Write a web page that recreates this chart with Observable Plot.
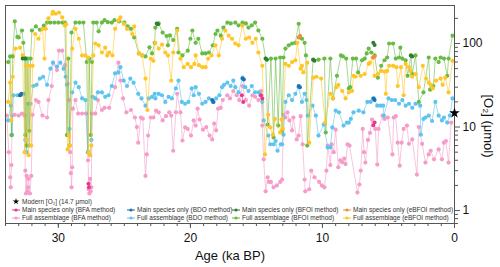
<!DOCTYPE html>
<html><head><meta charset="utf-8">
<script src="https://cdn.jsdelivr.net/npm/d3@7"></script>
<script src="https://cdn.jsdelivr.net/npm/@observablehq/plot@0.6"></script>
<style>
html,body{margin:0;padding:0;background:#fff;}
svg{display:block;}
</style>
</head><body>
<div id="chart"></div>
<script>
// [age (ka BP), O2 (µmol)]
const fullBFA = [[33.9,13.7],[33.75,5],[33.65,2.5],[33.6,1.9],[33.55,3.5],[33.5,13.7],[33.3,14],[33.0,13.7],[32.75,14.5],[32.55,13.7],[32.5,3],[32.45,1.6],[32.4,2.6],[32.35,1.7],[32.3,1.9],[32.25,2.4],[32.15,1.6],[32.05,2.6],[31.95,14],[31.7,21],[31.5,20],[31.2,13.7],[30.85,13],[30.75,21],[30.5,31],[30.4,59],[30.1,48],[29.95,82],[29.7,82],[29.5,55],[29.3,33],[29.2,21],[29.1,5],[29.05,2.8],[29.0,1.9],[28.95,3.3],[28.9,16.6],[28.7,21],[28.5,14.5],[28.2,14.5],[27.9,14.5],[27.75,4],[27.7,1.8],[27.65,1.6],[27.6,2.4],[27.55,1.7],[27.5,1.9],[27.45,14.5],[27.2,14.5],[27.0,21],[26.7,16],[26.5,17],[26.15,17],[25.7,30],[25.45,59],[25.3,36],[25.1,22],[24.85,15],[24.5,16],[24.2,13],[24.05,10],[23.95,6.5],[23.75,13],[23.6,12.6],[23.4,2.6],[23.3,4.7],[23.2,7.9],[23.0,13],[22.8,13],[22.6,15.7],[22.4,15],[22.1,12],[21.85,13.5],[21.6,15],[21.45,13.7],[21.3,5.2],[21.1,15],[21.0,25],[20.75,15],[20.6,6.9],[20.4,9.9],[20.2,9.5],[19.95,7.9],[19.75,12],[19.6,10.4],[19.45,16.6],[19.3,12.3],[19.05,9.3],[18.8,10],[18.55,7.9],[18.35,7.1],[18.2,11],[18.05,9.1],[17.9,16.6],[17.7,17],[17.55,21],[17.2,24],[17.0,22],[16.75,27],[16.5,24],[16.3,21],[16.05,31],[15.8,21],[15.55,18],[15.3,24],[15.1,23],[14.85,21],[14.65,27],[14.55,10.4],[14.45,4.1],[14.3,1.7],[14.15,2.5],[14.05,2.2],[13.9,2.2],[13.7,1.9],[13.45,2.0],[13.2,2.2],[13.05,2.35],[12.95,14],[12.8,13],[12.65,15],[12.5,12],[12.3,9.1],[12.2,13],[11.95,7.1],[11.8,7.9],[11.65,13.5],[11.5,6.2],[11.35,2.35],[11.3,1.7],[11.0,1.8],[10.85,3.0],[10.6,2.5],[10.25,2.2],[10.05,2.0],[9.85,1.9],[9.7,3.0],[9.6,6],[9.4,3.5],[9.3,6.2],[9.15,5.0],[9.0,9.3],[8.8,3.3],[8.65,4.0],[8.5,3.8],[8.35,4.2],[8.25,3.6],[8.1,6.2],[7.95,6.0],[7.35,1.64],[7.2,2.05],[7.1,3.0],[6.95,9.5],[6.85,5],[6.75,3.75],[6.55,7],[6.4,8.5],[6.25,12.3],[6.0,9.5],[5.85,3.55],[5.75,9.5],[5.45,13.7],[5.3,12.5],[5.05,13],[4.7,4.7],[4.6,13],[4.45,13.5],[4.3,6.5],[4.15,3.45],[4.0,6.5],[3.85,9.5],[3.6,10.4],[3.45,6.3],[3.2,7.1],[2.85,2.7],[2.7,10],[2.45,6.3],[2.2,3.75],[1.95,4.7],[1.8,5.2],[1.55,4.1],[1.2,5.4],[0.95,4.1],[0.8,6.5],[0.65,6.8],[0.45,3.75],[0.25,11.3]];

const fullBDO = [[33.8,12],[33.6,18],[33.5,8],[33.4,24],[33.1,24],[32.85,24],[32.6,25],[32.5,7],[32.4,5],[32.3,19],[32.2,6],[32.1,19],[31.9,31],[31.65,32],[31.4,38],[31.15,40],[30.85,32],[30.6,50],[30.4,59],[30.1,53],[29.85,59],[29.6,50],[29.45,40],[29.35,32],[29.25,8],[29.15,9.5],[28.95,26],[28.7,34],[28.45,30],[28.2,22],[27.95,21],[27.75,5],[27.6,4.6],[27.5,7],[27.4,23],[27.2,22],[27.0,26],[26.7,26],[26.45,23],[26.2,24],[25.95,31],[25.7,44],[25.45,45],[25.3,52],[25.05,36],[24.8,31],[24.55,38],[24.3,34],[23.95,25],[23.7,22],[23.4,18],[23.15,22],[22.9,23],[22.7,25],[22.65,22],[22.4,25],[22.15,24],[21.9,20],[21.65,23],[21.4,22],[21.1,29],[20.9,36],[20.65,20],[20.4,19],[20.15,20],[19.9,29],[19.75,24],[19.6,30],[19.35,25],[19.1,19],[18.85,20],[18.6,22],[18.3,20],[18.05,22],[17.8,24],[17.6,30],[17.45,32],[17.2,34],[16.95,31],[16.75,36],[16.6,30],[16.35,26],[16.05,39],[15.85,30],[15.6,27],[15.35,31],[15.1,26],[14.85,26],[14.7,24],[14.55,20],[14.45,12],[14.1,7.9],[13.95,6.2],[13.7,6.2],[13.55,6.8],[13.4,5.2],[13.15,6.2],[13.05,6.2],[12.95,8.1],[12.8,20],[12.55,24],[12.3,21],[12.05,25],[11.8,30],[11.55,20],[11.35,25],[11.2,21],[11.1,13.7],[10.75,18],[10.5,13.7],[10.3,7.9],[9.9,10.7],[9.6,5.7],[9.4,5.7],[9.25,9.9],[9.0,15.7],[8.75,15],[8.4,10.4],[8.15,11.3],[8.0,11.3],[7.85,12.5],[7.65,15],[7.25,15.7],[6.9,15],[6.6,20],[6.35,20],[6.1,22],[5.85,18],[5.6,18],[5.4,18],[5.35,13.7],[5.0,22],[4.75,21],[4.5,21],[4.2,19],[3.95,21],[3.7,18],[3.45,19],[3.2,17],[2.95,19],[2.6,18],[2.55,8.1],[2.35,12.5],[2.2,13],[1.95,13.7],[1.7,11.8],[1.45,20],[1.2,13.7],[0.95,12],[0.8,13],[0.55,11.3],[0.35,13.7],[0.15,22]];

const fullBFOI = [[33.8,60],[33.65,70],[33.55,8],[33.45,70],[33.3,184],[33.1,120],[33.0,118],[32.75,143],[32.65,102],[32.55,66],[32.5,8],[32.45,66],[32.4,6],[32.3,66],[32.2,9],[32.1,66],[32.0,143],[31.7,160],[31.4,146],[31.1,164],[30.85,178],[30.6,178],[30.3,178],[30.0,178],[29.7,178],[29.5,178],[29.35,8],[29.25,66],[29.15,6],[29.0,135],[28.7,178],[28.4,178],[28.1,178],[27.85,60],[27.75,5],[27.65,66],[27.55,8],[27.45,60],[27.35,178],[27.1,178],[26.95,140],[26.7,178],[26.5,190],[26.25,180],[25.95,178],[25.75,190],[25.4,184],[25.0,178],[24.75,160],[24.5,150],[24.25,118],[23.9,76],[23.65,72],[23.4,70],[23.1,90],[22.9,76],[22.7,102],[22.65,155],[22.4,174],[22.1,135],[21.8,123],[21.7,95],[21.55,125],[21.3,110],[21.0,150],[20.9,78],[20.6,72],[20.2,82],[20.0,114],[19.85,143],[19.6,102],[19.4,114],[19.1,76],[18.85,76],[18.6,78],[18.3,95],[18.1,130],[17.95,143],[17.7,124],[17.5,155],[17.2,178],[16.95,174],[16.6,178],[16.35,165],[16.05,178],[15.8,174],[15.6,155],[15.35,165],[15.1,178],[14.85,143],[14.55,114],[14.3,66],[14.15,10.7],[13.9,66],[13.7,7.5],[13.55,66],[13.35,10.4],[13.2,68],[13.05,9],[12.95,68],[12.8,87],[12.55,95],[12.3,100],[12.05,102],[11.8,172],[11.7,118],[11.55,114],[11.35,102],[11.25,72],[11.15,6],[10.7,64],[10.3,64],[9.85,66],[9.75,8.6],[9.4,66],[9.2,22],[8.9,41],[8.6,72],[8.45,70],[8.2,66],[8.0,29],[7.9,30],[7.7,66],[7.45,66],[7.3,45],[7.0,63],[6.8,66],[6.65,76],[6.5,87],[6.3,78],[6.05,72],[5.8,39],[5.55,54],[5.3,63],[5.1,68],[4.95,100],[4.65,100],[4.45,66],[4.2,68],[4.1,89],[3.95,66],[3.7,63],[3.55,41],[3.3,72],[3.2,43],[2.95,72],[2.7,20],[2.35,26],[1.95,68],[1.85,28],[1.6,31],[1.45,66],[1.2,60],[1.05,68],[0.8,66],[0.55,41],[0.45,66],[0.15,124]];

const fullEBFOI = [[33.8,20],[33.65,34],[33.55,12],[33.45,40],[33.25,87],[32.9,89],[32.7,72],[32.55,5],[32.45,54],[32.35,7],[32.25,4.6],[32.15,54],[32.05,6],[31.95,54],[31.75,130],[31.5,114],[31.2,150],[31.05,66],[30.95,150],[30.75,200],[30.45,227],[30.4,240],[30.2,227],[29.95,235],[29.7,205],[29.5,164],[29.4,170],[29.3,5.4],[29.2,8],[29.1,6],[28.95,87],[28.7,150],[28.45,114],[28.2,72],[27.95,72],[27.75,68],[27.7,5],[27.6,4.6],[27.5,6],[27.35,72],[27.2,100],[26.95,95],[26.7,78],[26.45,89],[26.3,72],[26.15,78],[25.9,72],[25.7,150],[25.45,189],[25.3,205],[25.05,172],[24.8,150],[24.4,130],[24.25,160],[23.9,76],[23.65,72],[23.4,38],[23.25,16],[23.0,66],[22.8,62],[22.65,102],[22.4,87],[22.15,97],[21.9,78],[21.7,72],[21.45,36],[21.3,78],[21.0,143],[20.75,66],[20.5,52],[20.2,57],[19.95,52],[19.7,57],[19.6,72],[19.35,55],[19.1,52],[18.85,52],[18.65,66],[18.4,72],[18.1,95],[17.85,72],[17.6,114],[17.35,143],[17.1,124],[16.85,114],[16.6,100],[16.35,95],[16.05,164],[15.8,114],[15.55,118],[15.3,102],[15.05,114],[14.85,78],[14.55,54],[14.35,4.7],[14.1,14],[13.95,9.9],[13.75,8.1],[13.6,12.5],[13.2,8.6],[13.1,12.3],[13.0,9.5],[12.8,57],[12.55,54],[12.3,60],[12.05,63],[11.9,102],[11.65,50],[11.55,54],[11.45,45],[11.15,59],[11.0,6.5],[10.7,39],[10.45,40],[10.1,38],[9.8,11.3],[9.4,25],[9.2,22],[8.95,30],[8.8,32],[8.5,27],[8.25,22],[8.0,26],[7.75,27],[7.65,41],[7.5,40],[7.1,41],[6.8,43],[6.5,57],[6.4,59],[6.2,68],[6.05,41],[5.8,43],[5.55,47],[5.3,46],[5.2,25],[5.1,47],[4.95,54],[4.65,54],[4.4,52],[4.3,31],[4.05,52],[3.85,24],[3.7,57],[3.45,52],[3.35,47],[3.2,40],[2.95,43],[2.7,30],[2.4,54],[2.15,38],[1.95,34],[1.8,32],[1.65,29],[1.4,36],[1.05,38],[0.9,32],[0.7,39],[0.45,26],[0.15,62]];

const mainBFA = [[27.72,2.1],[27.68,1.9],[16.1,24],[16.0,20],[14.65,24],[14.55,22],[6.15,10.5],[6.05,11.3]];
const mainBDO = [[32.9,24],[32.8,25],[18.35,21],[18.25,20],[16.05,38],[15.95,37],[11.8,31],[11.7,30],[6.15,22],[6.05,21]];
const mainBFOI = [[32.7,66],[32.5,66],[22.55,174],[22.45,170],[14.3,66],[14.2,64],[10.7,64],[10.6,62],[6.15,102],[6.05,96],[3.3,72],[3.2,70]];
const mainEBFOI = [[11.8,118],[11.7,124],[6.15,68],[6.05,70]];

const modernO2 = [[0, 14.7]];

const xMajorTicks = [0, 10, 20, 30];
const xMinorTicks = [0,1,2,3,4,5,6,7,8,9,10,11,12,13,14,15,16,17,18,19,20,21,22,23,24,25,26,27,28,29,30,31,32,33,34];
const yMajorTicks = [1, 10, 100];
const yMinorTicks = [0.7,0.8,0.9,2,3,4,5,6,7,8,9,20,30,40,50,60,70,80,90,200];

const seriesNames = [
  "Main species only (BFA method)", "Full assemblage (BFA method)",
  "Main species only (BDO method)", "Full assemblage (BDO method)",
  "Main species only (BFOI method)", "Full assemblage (BFOI method)",
  "Main species only (eBFOI method)", "Full assemblage (eBFOI method)"
];
const seriesColors = ["#e8388c", "#f59cc8", "#1f6fb2", "#5ec4ee", "#2f7d32", "#68bb45", "#f38b3e", "#ffc629"];

function toRows(arr) {
  let seg = 0;
  return arr.map((d, i) => {
    if (i > 0 && Math.abs(arr[i-1][0] - d[0]) > 0.6) seg++;
    return {age: d[0], o2: d[1], seg};
  });
}

const fullSets = [
  [toRows(fullBFA), seriesColors[1]],
  [toRows(fullBDO), seriesColors[3]],
  [toRows(fullBFOI), seriesColors[5]],
  [toRows(fullEBFOI), seriesColors[7]]
];
const mainSets = [
  [toRows(mainBFA), seriesColors[0]],
  [toRows(mainBDO), seriesColors[2]],
  [toRows(mainBFOI), seriesColors[4]],
  [toRows(mainEBFOI), seriesColors[6]]
];

const marks = [];
for (const [rows, c] of fullSets) {
  marks.push(Plot.line(rows, {x: "age", y: "o2", stroke: c, strokeWidth: 0.9, strokeOpacity: 0.65}));
  marks.push(Plot.dot(rows, {x: "age", y: "o2", r: 2.1, fill: c, stroke: "none"}));
}
for (const [rows, c] of mainSets) {
  marks.push(Plot.line(rows, {x: "age", y: "o2", z: "seg", stroke: c, strokeWidth: 0.9, strokeOpacity: 0.7}));
  marks.push(Plot.dot(rows, {x: "age", y: "o2", r: 2.0, fill: c, stroke: "none"}));
}
marks.push(Plot.frame({stroke: "#555", strokeWidth: 1}));
marks.push(Plot.axisX({ticks: xMajorTicks, tickSize: 5, tickPadding: 5, label: null, tickFormat: d => String(d), stroke: "#555", fill: "#111"}));
marks.push(Plot.axisX({ticks: xMinorTicks, tickSize: 3, label: null, tickFormat: () => "", stroke: "#555"}));
marks.push(Plot.axisY({anchor: "right", ticks: yMajorTicks, tickSize: 5, tickPadding: 3, label: null, tickFormat: d => String(d), stroke: "#555", fill: "#111"}));
marks.push(Plot.axisY({anchor: "right", ticks: yMinorTicks, tickSize: 3, label: null, tickFormat: () => "", stroke: "#555"}));
marks.push(Plot.dot(modernO2.map(d => ({age: d[0], o2: d[1]})), {x: "age", y: "o2", symbol: "star", r: 3.3, fill: "#000", stroke: "none"}));

const svg = Plot.plot({
  width: 500, height: 267,
  marginLeft: 5, marginRight: 46, marginTop: 5, marginBottom: 44,
  x: {domain: [34, 0]},
  y: {type: "log", domain: [0.7, 285]},
  style: {fontFamily: "'Liberation Sans', Arial, sans-serif", fontSize: "12px", background: "#fff", overflow: "visible"},
  marks
});

const s = d3.select(svg);
// axis titles
s.append("text").attr("x", 230).attr("y", 260).attr("text-anchor", "middle")
  .attr("font-size", 13).attr("fill", "#111").text("Age (ka BP)");
s.append("text").attr("transform", "translate(484,126) rotate(90)").attr("text-anchor", "middle")
  .attr("font-size", 13).attr("fill", "#111").text("[O₂] (μmol)");

// legend
const lg = s.append("g").attr("font-size", 6.5).attr("fill", "#333").attr("text-anchor", "start");
const colX = [16, 131, 236, 347];
const rowY = [210, 218];
lg.append("path").attr("d", d3.symbol(d3.symbolStar, 13)()).attr("transform", "translate(16,201.5)").attr("fill", "#000");
lg.append("text").attr("x", 22).attr("y", 201.5).attr("dy", "0.35em").attr("text-anchor", "start").text("Modern [O₂] (14.7 μmol)");
for (let i = 0; i < 8; i++) {
  const cx = colX[Math.floor(i / 2)], cy = rowY[i % 2];
  lg.append("line").attr("x1", cx - 4).attr("x2", cx + 4).attr("y1", cy).attr("y2", cy)
    .attr("stroke", seriesColors[i]).attr("stroke-width", 1);
  lg.append("circle").attr("cx", cx).attr("cy", cy).attr("r", 1.6).attr("fill", seriesColors[i]);
  lg.append("text").attr("x", cx + 6).attr("y", cy).attr("dy", "0.35em").attr("text-anchor", "start").text(seriesNames[i]);
}

document.getElementById("chart").appendChild(svg);
</script>
</body></html>
